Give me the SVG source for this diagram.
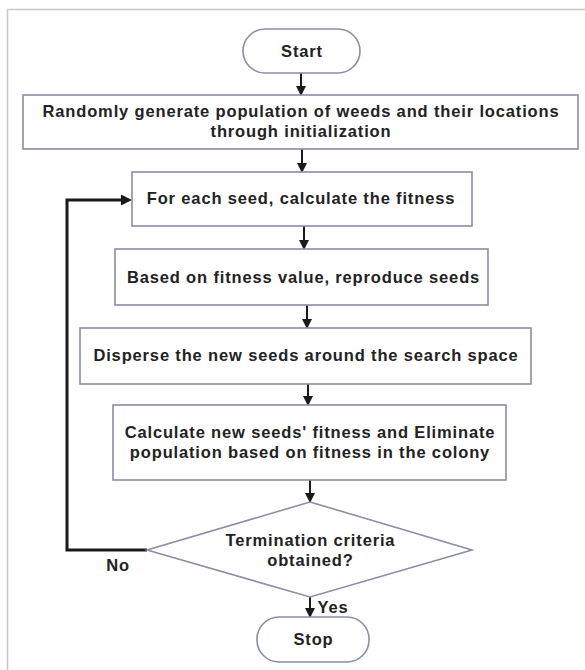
<svg xmlns="http://www.w3.org/2000/svg" width="585" height="670" viewBox="0 0 585 670">
<defs>
<marker id="ah" markerWidth="10" markerHeight="10" refX="9" refY="5" orient="auto" markerUnits="userSpaceOnUse">
<path d="M0,0 L10,5 L0,10 Z" fill="#1a1a1a"/>
</marker>
<style>
.box{fill:#fff;stroke:#8a8ea8;stroke-width:1.6}
.t{font-family:"Liberation Sans",Arial,sans-serif;font-weight:bold;font-size:16.5px;letter-spacing:0.85px;fill:#222;text-anchor:middle;dominant-baseline:central}
.c{fill:none;stroke:#1a1a1a;stroke-width:2}
.loop{fill:none;stroke:#1a1a1a;stroke-width:3}
.frame{fill:none;stroke:#c8c8c8;stroke-width:1.5}
</style>
</defs>
<rect width="585" height="670" fill="#fff"/>
<path class="frame" d="M7.5,670 L7.5,9.5 L585,9.5"/>
<g id="connectors">
<line class="c" x1="301" y1="73" x2="301" y2="95" marker-end="url(#ah)"/>
<line class="c" x1="302" y1="149" x2="302" y2="172" marker-end="url(#ah)"/>
<line class="c" x1="304" y1="226" x2="304" y2="249" marker-end="url(#ah)"/>
<line class="c" x1="307" y1="305" x2="307" y2="328" marker-end="url(#ah)"/>
<line class="c" x1="308" y1="384" x2="308" y2="405" marker-end="url(#ah)"/>
<line class="c" x1="310" y1="480" x2="310" y2="502" marker-end="url(#ah)"/>
<line class="c" x1="310" y1="597" x2="310" y2="617" marker-end="url(#ah)"/>
<path class="loop" d="M147,550 L67,550 L67,200 L122,200"/>
<path d="M121,194.5 L132,200 L121,205.5 Z" fill="#1a1a1a"/>
<text class="t" x="118" y="565">No</text>
<text class="t" x="333" y="607">Yes</text>
</g>
<g id="start">
<rect class="box" x="243" y="29" width="117" height="44" rx="22" ry="22"/>
<text class="t" x="302" y="51">Start</text>
</g>
<g id="init">
<rect class="box" x="23" y="95" width="555" height="54"/>
<text class="t" x="301" y="111">Randomly generate population of weeds and their locations</text>
<text class="t" x="301" y="131">through initialization</text>
</g>
<g id="fitness">
<rect class="box" x="132" y="172" width="340" height="54"/>
<text class="t" x="301" y="198">For each seed, calculate the fitness</text>
</g>
<g id="reproduce">
<rect class="box" x="115" y="249" width="373" height="56"/>
<text class="t" x="303.5" y="277">Based on fitness value, reproduce seeds</text>
</g>
<g id="disperse">
<rect class="box" x="80" y="328" width="451" height="56"/>
<text class="t" x="306" y="355">Disperse the new seeds around the search space</text>
</g>
<g id="eliminate">
<rect class="box" x="113" y="405" width="393" height="75"/>
<text class="t" x="310" y="432">Calculate new seeds' fitness and Eliminate</text>
<text class="t" x="310" y="452">population based on fitness in the colony</text>
</g>
<g id="decision">
<polygon class="box" points="310,502 472,550 310,597 147,550"/>
<text class="t" x="310.5" y="540">Termination criteria</text>
<text class="t" x="310.5" y="560">obtained?</text>
</g>
<g id="stop">
<rect class="box" x="257" y="617" width="112" height="45" rx="22" ry="22"/>
<text class="t" x="313.5" y="639">Stop</text>
</g>
</svg>
